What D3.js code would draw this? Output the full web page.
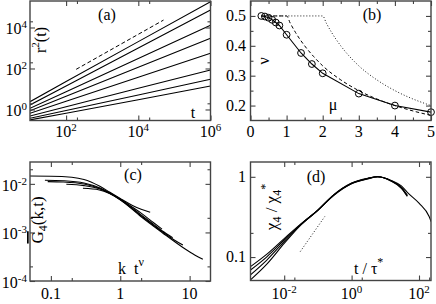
<!DOCTYPE html>
<html><head><meta charset="utf-8">
<script src="https://d3js.org/d3.v7.min.js"></script>
<style>
body{margin:0;background:#fff}
svg{display:block}
</style></head><body>
<svg width="436" height="304"></svg>
<script>
// ---------- (a) r^2(t), log-log
var aT = [10, 1e2, 1e4, 1e6];
var aR2 = [
  [2.4, 23, 2040, 1.8e5],
  [1.66, 14, 1000, 7.1e4],
  [1.15, 7.4, 310, 1.3e4],
  [0.87, 4.4, 115, 2950],
  [0.65, 2.5, 37, 550],
  [0.48, 1.36, 10.8, 85],
  [0.37, 0.89, 5.1, 30],
  [0.31, 0.66, 3.0, 14]
];
var aGuideT = [190, 5e4];
var aGuideR2 = [91, 2.3e4];
var aXMajor = [1e2, 1e4, 1e6], aXMinor = [2e2, 2e4];
var aYMajor = [1, 1e2, 1e4], aYMinor = [2, 2e2, 2e4];

// ---------- (b) nu(mu)
var bMu = [0.3, 0.4, 0.5, 0.6, 0.7, 0.8, 1.0, 1.4, 1.7, 2.0, 3.0, 4.0, 5.0];
var bNu = [0.5, 0.498, 0.494, 0.487, 0.478, 0.468, 0.437, 0.376, 0.339, 0.308, 0.240, 0.200, 0.178];
var bDashMu = [0.3, 1, 1.1, 1.25, 1.5, 1.75, 2, 2.5, 3, 3.5, 4, 4.5, 5];
var bDashNu = [0.5, 0.5, 0.476, 0.444, 0.4, 0.364, 0.333, 0.286, 0.25, 0.222, 0.2, 0.182, 0.167];
var bDotMu = [0.3, 2, 2.1, 2.25, 2.5, 3, 3.5, 4, 4.5, 5];
var bDotNu = [0.5, 0.5, 0.476, 0.444, 0.4, 0.333, 0.286, 0.25, 0.222, 0.2];
var bXMajor = [0, 1, 2, 3, 4, 5], bXMinor = [0.5, 1.5, 2.5, 3.5, 4.5];
var bYMajor = [0.2, 0.3, 0.4, 0.5], bYMinor = [0.25, 0.35, 0.45];

// ---------- (c) G4(k,t) vs k t^nu
var cK = [
  [0.04, 0.1, 0.2, 0.3, 0.5, 0.7, 1, 1.5, 2, 2.7],
  [0.082, 0.15, 0.3, 0.5, 0.7, 1, 1.5, 2, 3, 4],
  [0.09, 0.15, 0.3, 0.5, 0.7, 1, 2, 3, 4, 5.7],
  [0.167, 0.3, 0.5, 0.7, 1, 2, 4, 6, 8],
  [0.29, 0.5, 0.7, 1, 2, 4, 8, 12, 15.5]
];
var cG = [
  [0.0145, 0.0144, 0.0137, 0.0123, 0.0090, 0.0068, 0.0050, 0.0036, 0.0030, 0.0026],
  [0.0119, 0.0116, 0.0104, 0.0083, 0.0066, 0.0049, 0.0033, 0.0025, 0.0016, 0.00117],
  [0.0111, 0.0109, 0.0099, 0.0081, 0.0065, 0.0048, 0.0023, 0.00148, 0.00108, 0.00078],
  [0.0098, 0.0092, 0.0079, 0.0064, 0.0047, 0.0022, 0.00104, 0.00070, 0.00055],
  [0.0081, 0.0075, 0.0063, 0.0047, 0.0021, 0.00100, 0.00049, 0.00034, 0.00028]
];
var cXMajor = [0.1, 1, 10], cXMinor = [0.2, 2];
var cYMajor = [1e-4, 1e-3, 1e-2], cYMinor = [2e-4, 2e-3, 2e-2];

// ---------- (d) chi4/chi4* vs t/tau*
var dX = [0.001, 0.003, 0.01, 0.03, 0.1, 0.3, 1, 3, 6, 15, 30, 45, 100, 200, 230];
var dY = [
  [0.076, 0.108, 0.170, 0.255, 0.385, 0.59, 0.82, 0.94, 1.0, 0.88, 0.72, 0.57],
  [0.069, 0.100, 0.163, 0.252, 0.385, 0.595, 0.825, 0.95, 1.0, 0.89, 0.73, 0.58],
  [0.060, 0.091, 0.156, 0.250, 0.385, 0.60, 0.83, 0.955, 1.0, 0.89, 0.74, 0.59],
  [0.052, 0.081, 0.148, 0.247, 0.383, 0.60, 0.835, 0.96, 1.0, 0.90, 0.77, 0.64, 0.47, 0.32, 0.275]
];
var dGuideX = [0.03, 0.16], dGuideY = [0.117, 0.32];
var dXMajor = [1e-2, 1, 1e2], dXMinor = [2e-2, 2, 2e2];
var dYMajor = [0.1, 1], dYMinor = [0.2];

var svg = d3.select("svg");

function ticks(g, x, y, xs, ys, len) {
  var x0 = x.range()[0], x1 = x.range()[1], y0 = y.range()[0], y1 = y.range()[1];
  g.append("g").attr("transform", "translate(0," + y0 + ")")
    .call(d3.axisBottom(x).tickValues(xs).tickSize(-len).tickSizeOuter(0).tickFormat(""));
  g.append("g").attr("transform", "translate(0," + y1 + ")")
    .call(d3.axisTop(x).tickValues(xs).tickSize(-len).tickSizeOuter(0).tickFormat(""));
  g.append("g").attr("transform", "translate(" + x0 + ",0)")
    .call(d3.axisLeft(y).tickValues(ys).tickSize(-len).tickSizeOuter(0).tickFormat(""));
  g.append("g").attr("transform", "translate(" + x1 + ",0)")
    .call(d3.axisRight(y).tickValues(ys).tickSize(-len).tickSizeOuter(0).tickFormat(""));
  g.selectAll(".domain").remove();
  g.selectAll(".tick text").remove();
  g.selectAll(".tick line").attr("stroke", "#444").attr("stroke-width", 1.1);
}

function frame(g, x, y, o, id) {
  ticks(g, x, y, o.xMajor, o.yMajor, 5);
  ticks(g, x, y, o.xMinor, o.yMinor, 3);
  g.append("rect")
    .attr("x", x.range()[0]).attr("y", y.range()[1])
    .attr("width", x.range()[1] - x.range()[0]).attr("height", y.range()[0] - y.range()[1])
    .attr("fill", "none").attr("stroke", "#444").attr("stroke-width", 1.4);
  g.append("clipPath").attr("id", id).append("rect")
    .attr("x", x.range()[0]).attr("y", y.range()[1])
    .attr("width", x.range()[1] - x.range()[0]).attr("height", y.range()[0] - y.range()[1]);
}

function txt(g, size) {
  return g.append("text").attr("font-family", "Liberation Serif").attr("fill", "#000")
    .attr("font-size", size || 16);
}

// "10" with a superscript exponent
function pow10(g, px, py, exp, anchor) {
  var t = txt(g).attr("x", px).attr("y", py).attr("text-anchor", anchor);
  t.append("tspan").text("10");
  t.append("tspan").attr("dy", -6).attr("font-size", 11).text(exp);
  return t;
}

function plain(g, px, py, s, anchor) {
  return txt(g).attr("x", px).attr("y", py).attr("text-anchor", anchor).text(s);
}

// ================= (a)
var ax = d3.scaleLog().domain([10, 1e6]).range([30, 210.5]);
var ay = d3.scaleLog().domain([0.29, 1.96e5]).range([120.5, 1]);
var ga = svg.append("g");
var lineA = d3.line().x(function(d) { return ax(d[0]); }).y(function(d) { return ay(d[1]); });
var pa = ga.append("g").attr("clip-path", "url(#clipA)");
aR2.forEach(function(s) {
  pa.append("path").attr("d", lineA(d3.zip(aT, s)))
    .attr("fill", "none").attr("stroke", "#000").attr("stroke-width", 1.1);
});
pa.append("path").attr("d", lineA(d3.zip(aGuideT, aGuideR2)))
  .attr("fill", "none").attr("stroke", "#000").attr("stroke-width", 1).attr("stroke-dasharray", "4,2.5");
frame(ga, ax, ay, {xMajor: aXMajor, xMinor: aXMinor, yMajor: aYMajor, yMinor: aYMinor}, "clipA");
aXMajor.forEach(function(v) { pow10(ga, ax(v), 137, Math.log10(v), "middle"); });
aYMajor.forEach(function(v) { pow10(ga, 27, ay(v) + 7, Math.log10(v), "end"); });
plain(ga, 107, 20, "(a)", "middle");
plain(ga, 193, 118, "t", "middle");
var la = txt(ga).attr("transform", "translate(46,40) rotate(-90)").attr("text-anchor", "middle");
la.append("tspan").text("r");
la.append("tspan").attr("dy", -7).attr("font-size", 11).text("2");
la.append("tspan").attr("dy", 7).text("(t)");

// ================= (b)
var bx = d3.scaleLinear().domain([0, 5]).range([250.5, 431]);
var by = d3.scaleLinear().domain([0.15, 0.55]).range([120.5, 1]);
var gb = svg.append("g");
var lineB = d3.line().x(function(d) { return bx(d[0]); }).y(function(d) { return by(d[1]); });
var pb = gb.append("g").attr("clip-path", "url(#clipB)");
pb.append("path").attr("d", lineB.curve(d3.curveMonotoneX)(d3.zip(bDotMu, bDotNu)))
  .attr("fill", "none").attr("stroke", "#000").attr("stroke-width", 0.9).attr("stroke-dasharray", "1,2");
pb.append("path").attr("d", lineB.curve(d3.curveMonotoneX)(d3.zip(bDashMu, bDashNu)))
  .attr("fill", "none").attr("stroke", "#000").attr("stroke-width", 1).attr("stroke-dasharray", "3.5,2.5");
pb.append("path").attr("d", lineB.curve(d3.curveLinear)(d3.zip(bMu, bNu)))
  .attr("fill", "none").attr("stroke", "#000").attr("stroke-width", 1.1);
gb.selectAll("circle").data(d3.zip(bMu, bNu)).enter().append("circle")
  .attr("cx", function(d) { return bx(d[0]); })
  .attr("cy", function(d) { return by(d[1]); })
  .attr("r", 3.4).attr("fill", "none").attr("stroke", "#000").attr("stroke-width", 1);
frame(gb, bx, by, {xMajor: bXMajor, xMinor: bXMinor, yMajor: bYMajor, yMinor: bYMinor}, "clipB");
bXMajor.forEach(function(v) { plain(gb, bx(v), 137, String(v), "middle"); });
bYMajor.forEach(function(v) { plain(gb, 246, by(v) + 5, v.toFixed(1), "end"); });
plain(gb, 372, 20, "(b)", "middle");
plain(gb, 333, 110, "\u03bc", "middle");
txt(gb).attr("transform", "translate(269,61) rotate(-90)").attr("text-anchor", "middle").text("\u03bd");

// ================= (c)
var cx = d3.scaleLog().domain([0.05, 20]).range([30, 210.5]);
var cy = d3.scaleLog().domain([1e-4, 0.0282]).range([281, 162]);
var gc = svg.append("g");
var lineC = d3.line().x(function(d) { return cx(d[0]); }).y(function(d) { return cy(d[1]); }).curve(d3.curveMonotoneX);
var pc = gc.append("g").attr("clip-path", "url(#clipC)");
cK.forEach(function(k, i) {
  pc.append("path").attr("d", lineC(d3.zip(k, cG[i])))
    .attr("fill", "none").attr("stroke", "#000").attr("stroke-width", 1.1);
});
frame(gc, cx, cy, {xMajor: cXMajor, xMinor: cXMinor, yMajor: cYMajor, yMinor: cYMinor}, "clipC");
cXMajor.forEach(function(v) { plain(gc, cx(v), 299, String(v), "middle"); });
cYMajor.forEach(function(v) { pow10(gc, 27, cy(v) + 7, Math.log10(v), "end"); });
plain(gc, 133, 180, "(c)", "middle");
var lcx = txt(gc).attr("x", 118).attr("y", 274);
lcx.append("tspan").text("k");
lcx.append("tspan").attr("dx", 8).text("t");
lcx.append("tspan").attr("dy", -8).attr("font-size", 12).text("\u03bd");
var lcy = txt(gc, 17).attr("transform", "translate(43,220) rotate(-90)").attr("text-anchor", "middle");
lcy.append("tspan").style("text-decoration", "overline").text("G");
lcy.append("tspan").attr("dy", 4).attr("font-size", 12).text("4");
lcy.append("tspan").attr("dy", -4).text("(k,t)");

// ================= (d)
var dx = d3.scaleLog().domain([1e-3, 227]).range([250.5, 431]);
var dy = d3.scaleLog().domain([0.051, 1.53]).range([280.5, 162]);
var gd = svg.append("g");
var lineD = d3.line().x(function(d) { return dx(d[0]); }).y(function(d) { return dy(d[1]); }).curve(d3.curveMonotoneX);
var pd = gd.append("g").attr("clip-path", "url(#clipD)");
dY.forEach(function(s) {
  pd.append("path").attr("d", lineD(d3.zip(dX, s)))
    .attr("fill", "none").attr("stroke", "#000").attr("stroke-width", 1.1);
});
pd.append("path").attr("d", lineD.curve(d3.curveLinear)(d3.zip(dGuideX, dGuideY)))
  .attr("fill", "none").attr("stroke", "#000").attr("stroke-width", 0.9).attr("stroke-dasharray", "1,2");
frame(gd, dx, dy, {xMajor: dXMajor, xMinor: dXMinor, yMajor: dYMajor, yMinor: dYMinor}, "clipD");
dXMajor.forEach(function(v) { pow10(gd, dx(v), 299, Math.log10(v), "middle"); });
dYMajor.forEach(function(v) { plain(gd, 246, dy(v) + 5, String(v), "end"); });
plain(gd, 316, 182, "(d)", "middle");
var ldx = txt(gd).attr("x", 354).attr("y", 274);
ldx.append("tspan").text("t / \u03c4");
ldx.append("tspan").attr("dy", -8).attr("font-size", 12).text("*");
var ldy = txt(gd, 17).attr("transform", "translate(277,207) rotate(-90)").attr("text-anchor", "middle");
ldy.append("tspan").text("\u03c7");
ldy.append("tspan").attr("dy", 4).attr("font-size", 12).text("4");
ldy.append("tspan").attr("dy", -4).text(" / \u03c7");
ldy.append("tspan").attr("dy", 4).attr("font-size", 12).text("4");
ldy.append("tspan").attr("dy", -12).attr("font-size", 12).text("*");
</script>
</body></html>
